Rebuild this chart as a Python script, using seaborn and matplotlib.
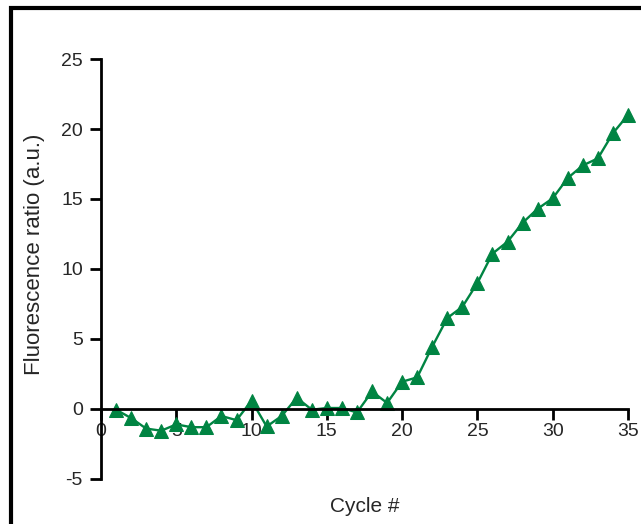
import numpy as np
import pandas as pd
import matplotlib
matplotlib.use('Agg')
import matplotlib.pyplot as plt
import matplotlib.patches as patches
import seaborn as sns

# Data
cycles = list(range(1, 36))
ratio = [-0.05, -0.65, -1.4, -1.55, -1.1, -1.3, -1.3, -0.5, -0.8, 0.6,
         -1.25, -0.5, 0.8, -0.05, 0.07, 0.07, -0.25, 1.25, 0.43, 1.95,
         2.26, 4.45, 6.5, 7.3, 9.0, 11.1, 11.95, 13.3, 14.3, 15.05,
         16.5, 17.4, 17.9, 19.7, 21.0]
x_ticks = [0, 5, 10, 15, 20, 25, 30, 35]
y_ticks = [-5, 0, 5, 10, 15, 20, 25]

df = pd.DataFrame({'cycle': cycles, 'ratio': ratio})

sns.set_style('white')
plt.rcParams['font.family'] = ['Liberation Sans Narrow', 'Liberation Sans', 'DejaVu Sans']

fig = plt.figure(figsize=(6.41, 5.24), dpi=100)
ax = fig.add_axes([0.1576, 0.0859, 0.8221, 0.8015])

green = '#008442'
sns.lineplot(data=df, x='cycle', y='ratio', ax=ax, color=green, linewidth=1.7,
             marker='^', markersize=10, markeredgecolor=green, markerfacecolor=green,
             clip_on=False)

ax.set_xlim(0, 35)
ax.set_ylim(-5, 25)
ax.set_xticks(x_ticks)
ax.set_yticks(y_ticks)
ax.set_yticklabels([str(v) for v in y_ticks])

for s in ['top', 'right']:
    ax.spines[s].set_visible(False)
ax.spines['bottom'].set_position(('data', 0))
for s in ['left', 'bottom']:
    ax.spines[s].set_linewidth(2)
    ax.spines[s].set_color('black')

ax.tick_params(axis='both', direction='out', length=8, width=2, color='black',
               labelsize=14, pad=4)
ax.tick_params(axis='x', bottom=True, pad=2)
ax.tick_params(axis='y', left=True, pad=5)

ax.set_xlabel('Cycle #', fontsize=15)
ax.set_ylabel('Fluorescence ratio (a.u.)', fontsize=16)
ax.xaxis.set_label_coords(0.5, -0.042)
ax.yaxis.set_label_coords(-0.107, 0.535)

# outer frame (cut off on right and bottom in the reference)
frame = patches.Rectangle((0.017, -0.2), 1.2, 1.185, transform=fig.transFigure,
                          fill=False, edgecolor='black', linewidth=3, clip_on=False)
fig.patches.append(frame)

fig.savefig('out.png', dpi=100)
